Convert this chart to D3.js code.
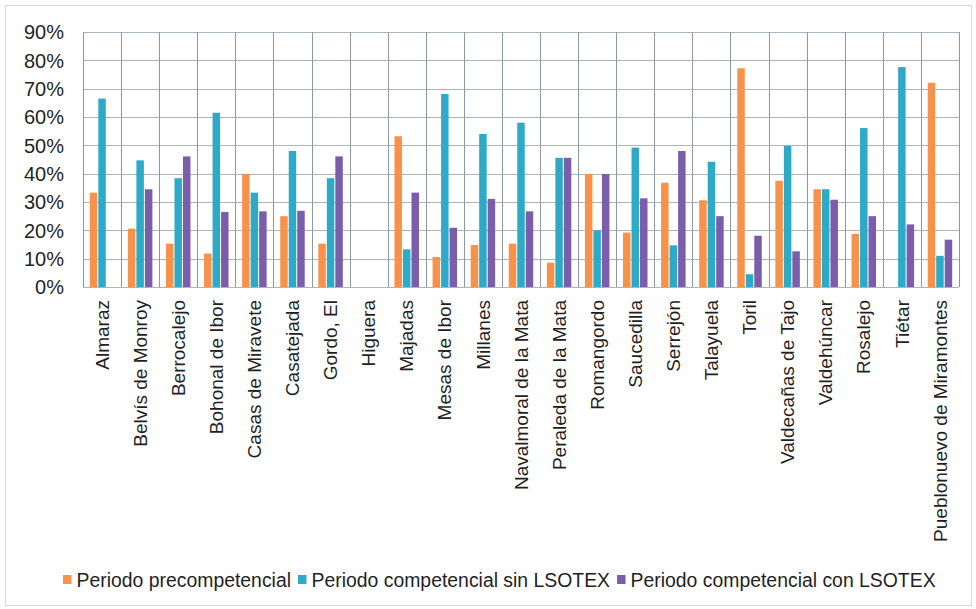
<!DOCTYPE html>
<html>
<head>
<meta charset="utf-8">
<script src="https://cdn.jsdelivr.net/npm/d3@7"></script>
<style>
  body { margin: 0; background: #fff; }
  text { font-family: "Liberation Sans", Arial, sans-serif; fill: #1f1f1f; }
</style>
</head>
<body>
<div id="chart"></div>
<script>
var municipios = ["Almaraz", "Belvís de Monroy", "Berrocalejo", "Bohonal de Ibor", "Casas de Miravete",
  "Casatejada", "Gordo, El", "Higuera", "Majadas", "Mesas de Ibor", "Millanes", "Navalmoral de la Mata",
  "Peraleda de la Mata", "Romangordo", "Saucedilla", "Serrejón", "Talayuela", "Toril",
  "Valdecañas de Tajo", "Valdehúncar", "Rosalejo", "Tiétar", "Pueblonuevo de Miramontes"]

var series = ["Periodo precompetencial", "Periodo competencial sin LSOTEX", "Periodo competencial con LSOTEX"]
var colores = ["#f7924a", "#2eaac9", "#7a5eab"]

// valores en %, null = sin dato
var precompetencial = [33.3, 20.6, 15.3, 11.8, 39.9, 25.0, 15.3, null, 53.2, 10.6, 14.8, 15.3,
  8.6, 39.9, 19.2, 36.8, 30.6, 77.2, 37.5, 34.5, 18.7, null, 72.1]
var sinLsotex = [66.5, 44.7, 38.4, 61.5, 33.3, 48.0, 38.4, null, 13.3, 68.1, 54.0, 58.0,
  45.6, 20.0, 49.2, 14.7, 44.2, 4.5, 49.8, 34.5, 56.1, 77.6, 11.0]
var conLsotex = [null, 34.5, 46.1, 26.5, 26.7, 26.9, 46.1, null, 33.3, 20.9, 31.1, 26.7,
  45.6, 39.9, 31.3, 48.0, 25.0, 18.1, 12.6, 30.8, 25.0, 22.1, 16.7]
var yTicks = [0, 10, 20, 30, 40, 50, 60, 70, 80, 90]

var W = 976, H = 609
var m = {left: 83, right: 17, top: 32, bottom: 322}

var svg = d3.select("#chart").append("svg").attr("width", W).attr("height", H)
svg.append("rect").attr("x", 5.5).attr("y", 5.5).attr("width", W - 10).attr("height", H - 9)
  .attr("fill", "#fff").attr("stroke", "#d6dade").attr("stroke-width", 1)

var x0 = d3.scaleBand().domain(municipios).range([m.left, W - m.right]).padding(0)
var x1 = d3.scaleBand().domain(d3.range(3)).range([0, x0.bandwidth()]).paddingInner(0.12).paddingOuter(0.8)
var y = d3.scaleLinear().domain([0, 90]).range([H - m.bottom, m.top])

var g = svg.append("g")

// rejilla horizontal
g.selectAll(".hgrid").data(yTicks).enter().append("line")
  .attr("x1", m.left).attr("x2", W - m.right)
  .attr("y1", function(d) { return Math.round(y(d)) + 0.5 })
  .attr("y2", function(d) { return Math.round(y(d)) + 0.5 })
  .attr("stroke", "#aab5be").attr("stroke-width", 1)

// rejilla vertical
var bordes = municipios.map(function(d) { return x0(d) }).concat([W - m.right])
g.selectAll(".vgrid").data(bordes).enter().append("line")
  .attr("x1", function(d) { return Math.round(d) + 0.5 })
  .attr("x2", function(d) { return Math.round(d) + 0.5 })
  .attr("y1", y(90)).attr("y2", y(0))
  .attr("stroke", "#8d979f").attr("stroke-width", 1)

// eje y
g.selectAll(".ylab").data(yTicks).enter().append("text")
  .attr("x", 64).attr("y", function(d) { return y(d) })
  .attr("dy", "0.36em").attr("text-anchor", "end")
  .style("font-size", "20px")
  .text(function(d) { return d + "%" })

// barras
var tabla = [precompetencial, sinLsotex, conLsotex]
var grupos = g.selectAll(".grupo").data(municipios).enter().append("g")
  .attr("transform", function(d) { return "translate(" + x0(d) + ",0)" })

grupos.selectAll("rect")
  .data(function(d, i) {
    return tabla.map(function(s, k) { return {k: k, v: s[i]} }).filter(function(e) { return e.v != null })
  })
  .enter().append("rect")
  .attr("x", function(d) { return x1(d.k) })
  .attr("width", x1.bandwidth())
  .attr("y", function(d) { return y(d.v) })
  .attr("height", function(d) { return y(0) - y(d.v) })
  .attr("fill", function(d) { return colores[d.k] })

// etiquetas eje x
grupos.append("text")
  .attr("transform", "translate(" + (x0.bandwidth() / 2) + "," + (y(0) + 13) + ") rotate(-90)")
  .attr("text-anchor", "end").attr("dy", "0.35em")
  .style("font-size", "19px")
  .text(function(d) { return d })

// leyenda
var ley = svg.append("g").attr("transform", "translate(63,0)")
var pos = 0
series.forEach(function(s, i) {
  ley.append("rect").attr("x", pos).attr("y", 575).attr("width", 8.5).attr("height", 9).attr("fill", colores[i])
  var t = ley.append("text").attr("x", pos + 13.5).attr("y", 586.5).style("font-size", "19.4px").text(s)
  pos = pos + 13.5 + t.node().getComputedTextLength() + 7
})
</script>
</body>
</html>
